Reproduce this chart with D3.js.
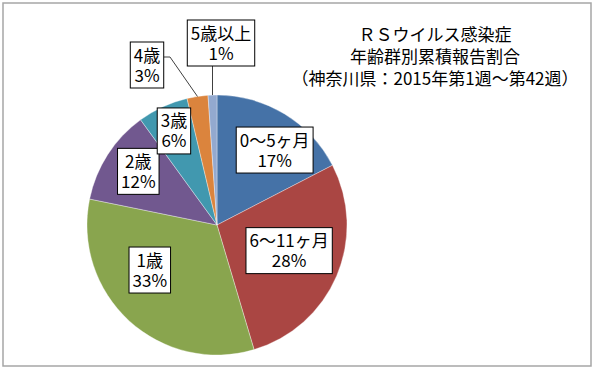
<!DOCTYPE html>
<html>
<head>
<meta charset="utf-8">
<script src="https://cdn.jsdelivr.net/npm/d3@7"></script>
<style>
  body { margin: 0; background: #fff; }
  text { font-family: "Noto Sans CJK JP", "Noto Sans", sans-serif; font-size: 17px; fill: #000; }
</style>
</head>
<body>
<div id="chart-area"></div>
<script>
const categories = ['0～5ヶ月', '6～11ヶ月', '1歳', '2歳', '3歳', '4歳', '5歳以上'];
const shares = [17.4, 28.0, 32.8, 11.8, 6.3, 2.6, 1.1];
const titleLines = ['ＲＳウイルス感染症', '年齢群別累積報告割合', '（神奈川県：2015年第1週～第42週）'];
const colors = ['#4572A7', '#AA4643', '#89A54E', '#71588F', '#4198AF', '#DB843D', '#93A9CF'];

// label placement (best-fit nudges for inside labels, callout boxes for the small slices)
const labelNudge = [[9, 5], [-14, -11], [-4, -24], [0, -3], [-4, -9]];
const callouts = { 5: { box: [-70, -160], elbow: [-47, -168] }, 6: { box: [4, -182], elbow: null } };

const drawChart = () => {
  const chartSize = { width: 594, height: 371 };
  const center = { x: 217, y: 225 };
  const radius = 130;

  const svg = d3.select('#chart-area')
    .append('svg')
    .attr('width', chartSize.width)
    .attr('height', chartSize.height);

  svg.append('rect')
    .attr('x', 3).attr('y', 3)
    .attr('width', 588).attr('height', 363)
    .attr('fill', '#fff')
    .attr('stroke', '#a6a6a6')
    .attr('stroke-width', 1.5);

  svg.selectAll('.title').data(titleLines).enter()
    .append('text')
    .attr('class', 'title')
    .attr('text-anchor', 'middle')
    .attr('x', 435)
    .attr('y', (d, i) => 41 + i * 22)
    .text(d => d);

  const data = categories.map((c, i) => ({ name: c, value: shares[i] }));
  const pie = d3.pie().sort(null).value(d => d.value);
  const arcs = pie(data);
  const arc = d3.arc().innerRadius(0).outerRadius(radius);
  const labelArc = d3.arc().innerRadius(radius * 0.72).outerRadius(radius * 0.72);
  const edgeArc = d3.arc().innerRadius(radius).outerRadius(radius);

  const g = svg.append('g')
    .attr('transform', `translate(${center.x},${center.y})`);

  g.selectAll('path').data(arcs).enter()
    .append('path')
    .attr('d', arc)
    .attr('fill', (d, i) => colors[i])
    .attr('stroke', '#fff')
    .attr('stroke-opacity', 0.5)
    .attr('stroke-width', 0.7);

  const total = d3.sum(shares);
  const labels = g.selectAll('.label').data(arcs).enter()
    .append('g')
    .attr('class', 'label');

  labels.each(function (d, i) {
    const lg = d3.select(this);
    let cx, cy;
    if (callouts[i]) {
      [cx, cy] = callouts[i].box;
    } else {
      const [x, y] = labelArc.centroid(d);
      cx = x + labelNudge[i][0];
      cy = y + labelNudge[i][1];
    }
    const lines = [d.data.name, Math.round(d.data.value / total * 100) + '%'];
    const rect = lg.append('rect');
    const texts = lines.map((s, k) => lg.append('text')
      .attr('text-anchor', 'middle')
      .attr('x', cx)
      .attr('y', cy - 3.5 + k * 20)
      .text(s));
    const w = d3.max(texts, t => t.node().getComputedTextLength()) + 7;
    const h = 46;
    rect.attr('x', cx - w / 2).attr('y', cy - h / 2)
      .attr('width', w).attr('height', h)
      .attr('fill', '#fff').attr('stroke', '#000').attr('stroke-width', 1);

    if (callouts[i]) {
      const p = edgeArc.centroid(d);
      let pts;
      if (callouts[i].elbow) {
        pts = [p, callouts[i].elbow, [cx + w / 2, callouts[i].elbow[1]]];
      } else {
        pts = [p, [p[0], cy + h / 2]];
      }
      g.insert('path', '.label')
        .attr('d', d3.line()(pts))
        .attr('fill', 'none')
        .attr('stroke', '#404040')
        .attr('stroke-width', 1);
    }
  });
};

window.onload = drawChart;
</script>
</body>
</html>
